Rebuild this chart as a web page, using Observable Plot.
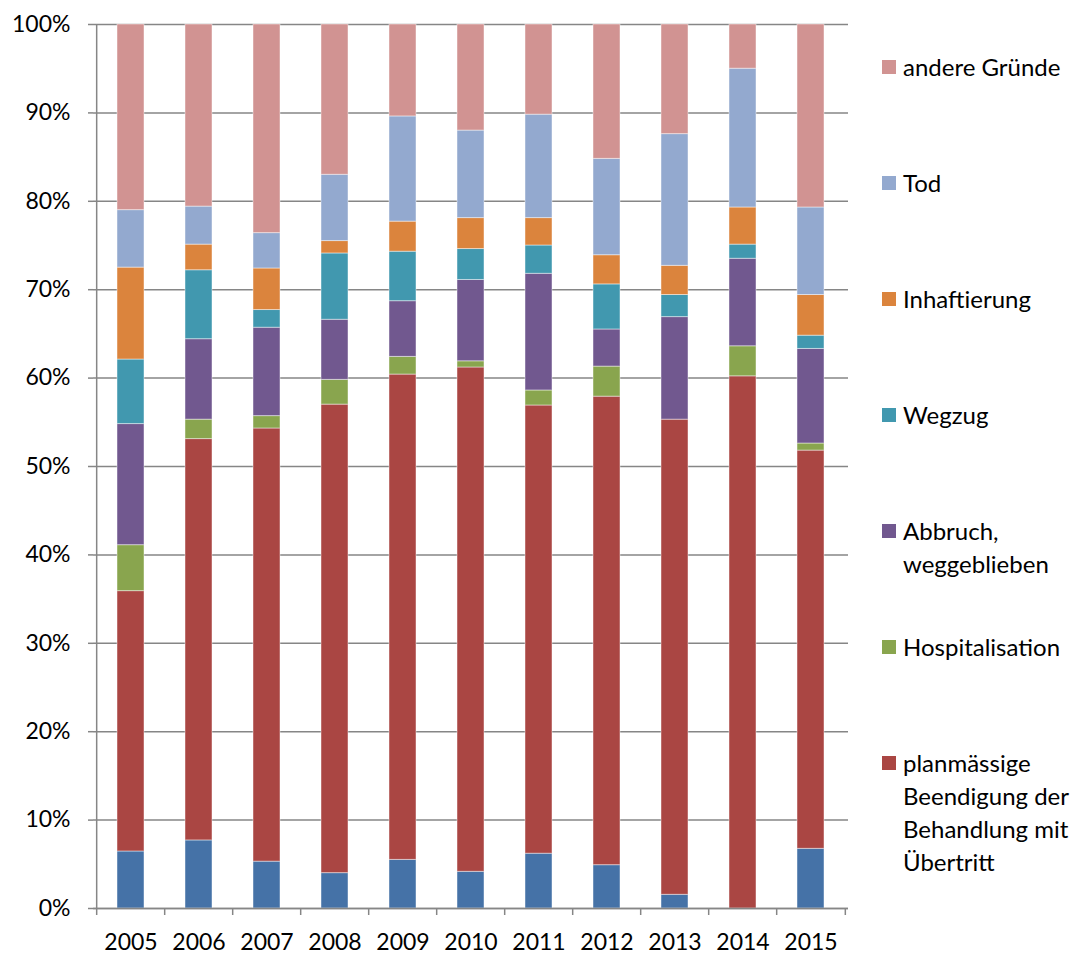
<!DOCTYPE html>
<html>
<head>
<meta charset="utf-8">
<script src="https://cdn.jsdelivr.net/npm/d3@7"></script>
<script src="https://cdn.jsdelivr.net/npm/@observablehq/plot@0.6"></script>
<style>
  body { margin: 0; background: #fff; font-family: Lato, "Open Sans", sans-serif; }
  #wrap { position: relative; width: 1079px; height: 954px; overflow: hidden; }
  #legend { position: absolute; left: 882px; top: 50px; font-size: 24px; line-height: 33px; color: #000; }
  .item { display: flex; align-items: flex-start; height: 116px; }
  .sw { width: 14px; height: 14px; margin-top: 10px; margin-right: 7px; flex: none; }
  .lbl { width: 180px; }
</style>
</head>
<body>
<div id="wrap"></div>
<script>
// ---- data (percent of cases) ----
const years = ["2005","2006","2007","2008","2009","2010","2011","2012","2013","2014","2015"];
const seriesNames = [
  "ohne Angabe",
  "planmässige Beendigung der Behandlung mit Übertritt",
  "Hospitalisation",
  "Abbruch, weggeblieben",
  "Wegzug",
  "Inhaftierung",
  "Tod",
  "andere Gründe"
];
const blueVals     = [6.45, 7.7, 5.3, 4.0, 5.5, 4.15, 6.2, 4.9, 1.55, 0, 6.75];
const planVals     = [29.45, 45.4, 49.0, 53.0, 54.9, 57.05, 50.7, 53.0, 53.75, 60.2, 45.05];
const hospVals     = [5.2, 2.2, 1.4, 2.8, 2.0, 0.7, 1.7, 3.4, 0, 3.4, 0.8];
const abbruchVals  = [13.7, 9.1, 10.0, 6.8, 6.3, 9.2, 13.2, 4.2, 11.6, 9.9, 10.7];
const wegzugVals   = [7.3, 7.8, 2.0, 7.5, 5.6, 3.5, 3.2, 5.1, 2.5, 1.6, 1.5];
const inhaftVals   = [10.4, 2.9, 4.7, 1.4, 3.4, 3.5, 3.1, 3.3, 3.3, 4.2, 4.6];
const todVals      = [6.5, 4.3, 4.0, 7.5, 11.9, 9.9, 11.7, 10.9, 14.9, 15.7, 9.9];
const andereVals   = [21.0, 20.6, 23.6, 17.0, 10.4, 12.0, 10.2, 15.2, 12.4, 5.0, 20.7];
const yTicks = [0, 10, 20, 30, 40, 50, 60, 70, 80, 90, 100];
const colors = ["#4572A7", "#AA4643", "#89A54E", "#71588F", "#4198AF", "#DB843D", "#93A9CF", "#D19392"];
const legendNames = seriesNames.slice(1).reverse();

const valueArrays = [blueVals, planVals, hospVals, abbruchVals, wegzugVals, inhaftVals, todVals, andereVals];
const data = [];
seriesNames.forEach((s, si) => years.forEach((y, yi) => data.push({year: y, series: s, value: valueArrays[si][yi]})));

// ---- layout ----
const W = 1079, H = 954, mL = 93, mR = 231, mT = 24, mB = 46;
const step = (W - mL - mR) / years.length;
const gray = "#868686";

const chart = Plot.plot({
  width: W, height: H,
  marginLeft: mL, marginRight: mR, marginTop: mT, marginBottom: mB,
  style: {fontFamily: "Lato, 'Open Sans', sans-serif", fontSize: "23px", color: "#000", background: "white"},
  x: {domain: years, paddingInner: 0.6, paddingOuter: 0.3},
  y: {domain: [0, 100]},
  color: {domain: seriesNames, range: colors},
  marks: [
    Plot.gridY(yTicks, {stroke: gray, strokeOpacity: 1, strokeWidth: 1.5}),
    Plot.barY(data, {x: "year", y: "value", fill: "series", order: seriesNames,
      stroke: "white", strokeOpacity: 0.45, strokeWidth: 1}),
    Plot.ruleY([0], {stroke: gray, strokeWidth: 1.5}),
    Plot.ruleX([years[0]], {dx: -step / 2, stroke: gray, strokeWidth: 1.5}),
    Plot.ruleX(years, {dx: -step / 2, y1: 0, y2: 0, insetBottom: -7, stroke: gray, strokeWidth: 1.5}),
    Plot.ruleX([years[years.length - 1]], {dx: step / 2, y1: 0, y2: 0, insetBottom: -7, stroke: gray, strokeWidth: 1.5}),
    Plot.axisY(yTicks, {tickSize: 5, tickPadding: 18, tickFormat: d => d + "%", stroke: gray, strokeWidth: 1.5, fill: "#000", label: null}),
    Plot.axisX({tickSize: 0, tickPadding: 25, fill: "#000", label: null})
  ]
});

const wrap = document.getElementById("wrap");
wrap.appendChild(chart);

const legend = document.createElement("div");
legend.id = "legend";
legendNames.forEach(name => {
  const item = document.createElement("div");
  item.className = "item";
  const sw = document.createElement("div");
  sw.className = "sw";
  sw.style.background = colors[seriesNames.indexOf(name)];
  const lbl = document.createElement("div");
  lbl.className = "lbl";
  lbl.textContent = name;
  item.appendChild(sw);
  item.appendChild(lbl);
  legend.appendChild(item);
});
wrap.appendChild(legend);
</script>
</body>
</html>
